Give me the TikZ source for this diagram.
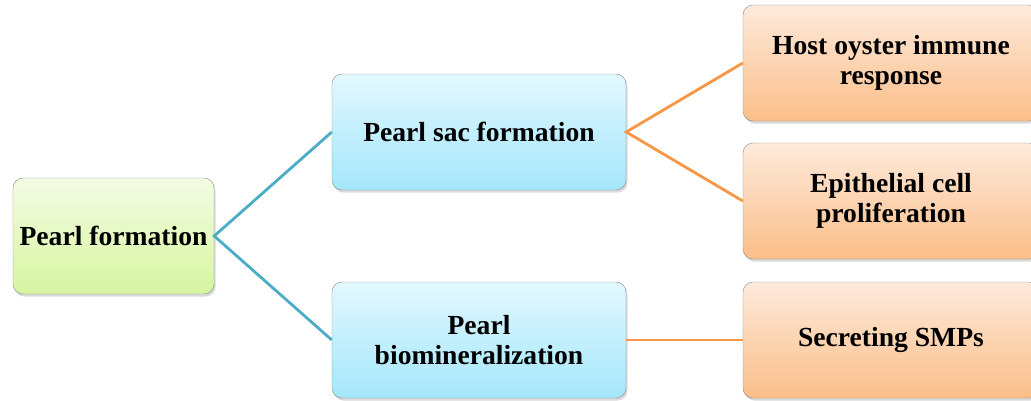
\documentclass[tikz,border=0pt]{standalone}
\usepackage{fontspec}
\setmainfont{Liberation Serif}
\usetikzlibrary{shadows}

\definecolor{greentop}{HTML}{F4FCE3}
\definecolor{greenbot}{HTML}{D6F5A0}
\definecolor{bluetop}{HTML}{E2F8FF}
\definecolor{bluebot}{HTML}{A4E6FA}
\definecolor{orangetop}{HTML}{FDEADB}
\definecolor{orangebot}{HTML}{FBBE88}
\definecolor{tealline}{HTML}{4BACC6}
\definecolor{orangeline}{HTML}{F79646}

\begin{document}
\begin{tikzpicture}[
    x=1pt, y=-1pt,
    every node/.style={rectangle, rounded corners=10pt, draw=black!45, thin, align=center,
        font=\fontsize{27.6}{30}\selectfont\bfseries, minimum height=116pt,
        drop shadow={shadow xshift=1.5pt, shadow yshift=-2.5pt, opacity=0.3}},
    rootbox/.style={minimum width=201pt, top color=greentop, bottom color=greenbot},
    midbox/.style={minimum width=294pt, top color=bluetop, bottom color=bluebot},
    leafbox/.style={minimum width=296pt, top color=orangetop, bottom color=orangebot},
    teal/.style={tealline, line width=2.8pt},
    orng/.style={orangeline, line width=2.8pt}
]
    \useasboundingbox (0,0) rectangle (1031,400);

    % Nodes
    \node[rootbox] (pearl) at (113.5,236) {Pearl formation};
    \node[midbox] (sac) at (479,132) {Pearl sac formation};
    \node[midbox] (biomin) at (479,340) {Pearl\\biomineralization};
    \node[leafbox] (immune) at (891,63) {Host oyster immune\\response};
    \node[leafbox] (epith) at (891,201) {Epithelial cell\\proliferation};
    \node[leafbox] (smp) at (891,340) {Secreting SMPs};

    % Edges
    \draw[teal] (sac.west) -- (pearl.east) -- (biomin.west);
    \draw[orng] (immune.west) -- (sac.east) -- (epith.west);
    \draw[orng] (biomin.east) -- (smp.west);
\end{tikzpicture}
\end{document}
